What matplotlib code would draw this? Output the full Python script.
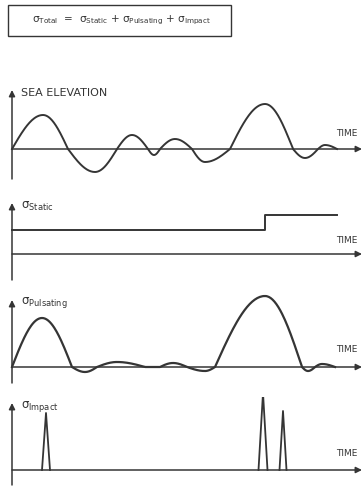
import numpy as np
import matplotlib.pyplot as plt
from matplotlib.patches import Rectangle

# key points (time, value)
sea_t = [0, 31, 56, 83, 105, 120, 136, 142, 148, 163, 180, 193, 218, 253, 281, 293, 306, 313, 325]
sea_v = [0, 34, 0, -23, 0, 14, 0, -6, 0, 10, 0, -13, 0, 45, 0, -9, 0, 4, 0]

static_t = [0, 253, 325]
static_v = [24, 39, 39]

puls_t = [0, 30, 60, 73, 85, 105, 133, 148, 161, 175, 193, 203, 253, 290, 296, 303, 310, 323]
puls_v = [0, 49, 0, -5, 0, 5, 0, 0, 4, 0, -4, 0, 71, 0, -4, 0, 3, 0]

impact_center = [34, 251, 271]
impact_half = [4, 4.5, 3.5]
impact_h = [57, 77, 59]

labels = ["SEA ELEVATION", r"$\sigma_{\mathrm{Static}}$",
          r"$\sigma_{\mathrm{Pulsating}}$", r"$\sigma_{\mathrm{Impact}}$"]

W, H = 364, 487
INK = "#353535"
plt.rcParams["mathtext.fontset"] = "dejavusans"
plt.rcParams["mathtext.default"] = "regular"


def wave(t, v, n=40):
    """Quarter-sine segments between crossings and extrema."""
    xs, ys = [], []
    for i in range(len(t) - 1):
        s = np.linspace(0, 1, n)
        a, b = v[i], v[i + 1]
        if abs(a) <= abs(b):
            y = a + (b - a) * np.sin(np.pi / 2 * s)
        else:
            y = b + (a - b) * np.cos(np.pi / 2 * s)
        xs.append(t[i] + (t[i + 1] - t[i]) * s)
        ys.append(y)
    return np.concatenate(xs), np.concatenate(ys)


def panel(y0, top, bottom):
    """Axes in pixel-like units; y0 = baseline row, top/bottom = axis arrow ends."""
    lo, hi = bottom + 2, top - 6
    ax = fig.add_axes([0, 1 - lo / H, 1, (lo - hi) / H])
    ax.set_xlim(-12, 352)
    ax.set_ylim(-(lo - y0), y0 - hi)
    ax.axis("off")
    arrow = dict(arrowstyle="-|>", color=INK, lw=1.1, mutation_scale=9,
                 shrinkA=0, shrinkB=0)
    ax.annotate("", xy=(0, y0 - top), xytext=(0, -(bottom - y0)), arrowprops=arrow)
    ax.annotate("", xy=(350, 0), xytext=(0, 0), arrowprops=arrow)
    return ax


fig = plt.figure(figsize=(W / 100, H / 100), dpi=100)
fig.patch.set_facecolor("white")

# formula box
fig.patches.append(Rectangle((8 / W, 1 - 36 / H), 223 / W, 31 / H,
                             transform=fig.transFigure, fill=False,
                             edgecolor=INK, lw=1.0))
fig.text(122 / W, 1 - 20 / H,
         r"$\sigma_{Total}$  =  $\sigma_{Static}$ + "
         r"$\sigma_{Pulsating}$ + $\sigma_{Impact}$",
         ha="center", va="center", fontsize=7.5, color=INK)

rows = [(149, 90, 179), (254, 203, 280), (367, 300, 383), (470, 403, 485)]
time_dy = [16, 14, 17, 17]
axes = [panel(*r) for r in rows]

x, y = wave(sea_t, sea_v)
axes[0].plot(x, y, color=INK, lw=1.4)

axes[1].plot(static_t, static_v, drawstyle="steps-post", color=INK, lw=1.4)

x, y = wave(puls_t, puls_v)
axes[2].plot(x, y, color=INK, lw=1.6)

for c, hw, h in zip(impact_center, impact_half, impact_h):
    axes[3].plot([c - hw, c, c + hw], [0, h, 0], color=INK, lw=1.3)

for ax, lab, (y0, top, bottom), dy in zip(axes, labels, rows, time_dy):
    fs = 8 if ax is axes[0] else 8.5
    ax.text(9, y0 - top - 3, lab, fontsize=fs, color=INK, ha="left", va="center")
    ax.text(324, dy, "TIME", fontsize=6.5, color=INK, ha="left", va="center")

fig.savefig("out.png", dpi=100, facecolor="white")
